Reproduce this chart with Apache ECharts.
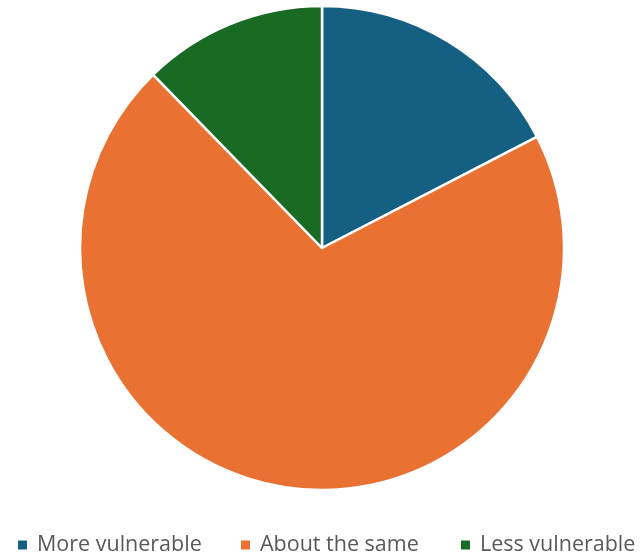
<!DOCTYPE html>
<html><head><meta charset="utf-8">
<script src="https://cdn.jsdelivr.net/npm/echarts@6/dist/echarts.min.js"></script>
<style>html,body{margin:0;padding:0;background:#fff}#c{width:641px;height:555px}</style>
</head><body><div id="c"></div>
<script>
const categories = ['More vulnerable', 'About the same', 'Less vulnerable'];
const values = [17.4, 70.3, 12.3];
const colors = ['#156082', '#E97132', '#196B24'];

const legendLefts = [18, 241, 461];
const chart = echarts.init(document.getElementById('c'), null, {renderer: 'canvas'});
chart.setOption({
  animation: false,
  color: colors,
  legend: categories.map((n, i) => ({
    data: [n],
    left: legendLefts[i],
    top: 534,
    padding: 0,
    icon: 'rect',
    itemWidth: 9,
    itemHeight: 9,
    itemStyle: {borderWidth: 0},
    textStyle: {color: '#595959', fontSize: 21.5, fontFamily: 'Open Sans', padding: [0, 0, 0, 5]}
  })),
  series: [{
    type: 'pie',
    center: [322, 248],
    radius: 242,
    startAngle: 90,
    clockwise: true,
    label: {show: false},
    labelLine: {show: false},
    itemStyle: {borderColor: '#fff', borderWidth: 2.5},
    emphasis: {disabled: true},
    data: categories.map((n, i) => ({name: n, value: values[i]}))
  }]
});
</script></body></html>
